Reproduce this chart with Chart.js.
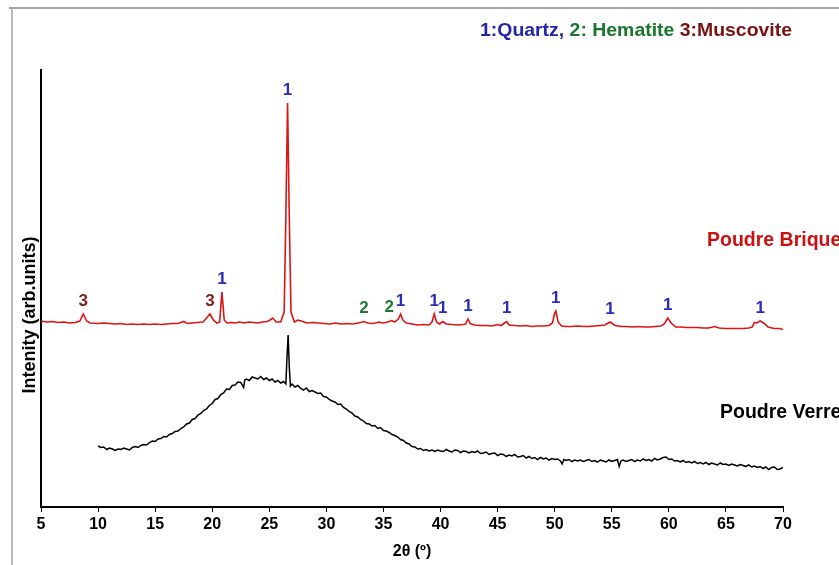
<!DOCTYPE html>
<html lang="fr">
<head>
<meta charset="UTF-8">
<title>DRX - Poudre Brique / Poudre Verre</title>
<script src="https://cdn.jsdelivr.net/npm/chart.js"></script>
<style>
  html, body { margin: 0; padding: 0; background: #fff; }
  #wrap { width: 839px; height: 565px; }
</style>
</head>
<body>
<div id="wrap"><canvas id="xrdChart" width="839" height="565"></canvas></div>
<script>
// 2theta tick values
const thetaTicks = [5, 10, 15, 20, 25, 30, 35, 40, 45, 50, 55, 60, 65, 70];

// Poudre Brique pattern, [2theta, intensity] (arb. units)
const briqueData = [
  [5,186],[5.5,185],[6,185.5],[6.5,184.5],[7,185],[7.5,184],[8,184.5],[8.4,186],[8.7,193],[9,186],[9.3,184],
  [10,183.5],[10.5,184],[11,183.5],[11.5,183],[12,183.5],[12.5,182.5],[13,183],[13.5,182.5],[14,183],[14.5,182.5],
  [15,183],[15.5,182.5],[16,183],[16.5,183.5],[17,183.5],[17.5,185.5],[17.8,183.5],[18.2,184],[18.7,184.5],[19.2,185],
  [19.5,189],[19.8,193],[20.1,187],[20.4,184],[20.65,185],[20.85,215],[21.05,187],[21.3,184],[21.7,184.5],[22,184],
  [22.4,185],[22.8,184],[23.2,185],[23.6,184.5],[24,184],[24.4,185],[24.8,185.5],[25,186.5],[25.3,189],[25.6,185],
  [26,185],[26.3,195],[26.45,290],[26.6,404],[26.75,290],[26.9,195],[27.2,185],[27.5,187],[27.8,186],[28.3,184],
  [28.8,184.5],[29.3,184],[29.8,183.5],[30.3,183],[30.8,184],[31.3,183],[31.8,183.5],[32.3,183],[32.8,184],[33.3,185.5],
  [33.6,184],[34,183.5],[34.3,184],[34.6,185],[34.9,184],[35.2,184.5],[35.5,185.5],[35.7,186.5],[36,185],[36.3,188],
  [36.5,193],[36.7,187],[37,184],[37.5,183],[38,182],[38.5,182.5],[39,182],[39.25,185],[39.45,193],[39.65,185],
  [39.9,183],[40.2,185.5],[40.5,183],[41,182.5],[41.5,182],[42,182.5],[42.2,183],[42.4,188],[42.6,183.5],[43,182],
  [43.5,181.5],[44,181.5],[44.5,181],[45,182.5],[45.3,181.5],[45.6,184],[45.8,185.5],[46,182],[46.5,181.5],[47,181],
  [47.5,181.5],[48,180.5],[48.5,181],[49,181],[49.5,181.5],[49.8,184],[50,194],[50.1,196],[50.3,185],[50.6,181],
  [51,180.5],[51.5,180.5],[52,181],[52.5,180.5],[53,180.5],[53.5,181],[54,181.5],[54.4,182],[54.85,185],[55.3,181.5],
  [55.8,180.5],[56.3,180.5],[56.8,180],[57.3,180.5],[57.8,180],[58.3,180],[58.8,180.5],[59.3,181],[59.6,183],[59.9,189],
  [60.2,184],[60.6,180],[61,180],[61.5,179.5],[62,179.5],[62.5,179.5],[63,179],[63.5,179],[64,180.5],[64.4,179],
  [65,178.5],[65.5,178.5],[66,178.5],[66.5,178.5],[67,179],[67.3,180],[67.5,184.5],[67.7,184],[68,186],[68.3,184],
  [68.7,180],[69.2,178.5],[69.7,178.5],[70,177.5]
];

// Poudre Verre pattern, [2theta, intensity] (arb. units)
const verreData = [
  [10,61],[10.25,59.5],[10.5,60],[10.75,57.5],[11,59],[11.25,58],[11.5,56.5],[11.75,58],[12,57.5],[12.25,59],
  [12.5,58],[12.75,57],[13,59.5],[13.25,60.5],[13.5,59.5],[13.75,61.5],[14,62.5],[14.25,62],[14.5,64.5],[14.75,66],
  [15,65.5],[15.25,68],[15.5,68.5],[15.75,70.5],[16,70],[16.25,72.5],[16.5,73.5],[16.75,75.5],[17,76],[17.25,78.5],
  [17.5,80],[17.75,83],[18,84],[18.25,87.5],[18.5,88.5],[18.75,92],[19,93.5],[19.25,96.5],[19.5,98],[19.75,101.5],
  [20,103.5],[20.25,107.5],[20.5,108.5],[20.75,112.5],[21,114],[21.25,118],[21.5,117.5],[21.75,121.5],[22,122],[22.25,125],
  [22.5,124.5],[22.75,119.5],[22.85,127],[23,128],[23.25,126.5],[23.5,130],[23.75,129],[24,128],[24.25,130.5],[24.5,127.5],
  [24.75,129],[25,126.5],[25.25,128],[25.5,125],[25.75,126.5],[26,124],[26.25,125.5],[26.45,123],[26.55,150],[26.65,172],
  [26.75,140],[26.85,121],[27,123],[27.25,120],[27.5,121.5],[27.75,118.5],[28,117],[28.25,119],[28.5,115.5],[28.75,116.5],
  [29,115],[29.25,113.5],[29.5,114],[29.75,110.5],[30,110],[30.25,107.5],[30.5,106],[30.75,105],[31,102.5],[31.25,103],
  [31.5,99.5],[31.75,98],[32,95.5],[32.25,94],[32.5,91],[32.75,90],[33,87.5],[33.25,86],[33.5,83.5],[33.75,83],
  [34,81],[34.25,81.5],[34.5,78.5],[34.75,79.5],[35,76.5],[35.25,76],[35.5,74.5],[35.75,72.5],[36,71.5],[36.25,70],
  [36.5,67.5],[36.75,66.5],[37,64],[37.25,63],[37.5,60.5],[37.75,60],[38,58],[38.25,58.5],[38.5,56.5],[38.75,57.5],
  [39,56],[39.25,57],[39.5,55.5],[39.75,57],[40,56],[40.25,55.5],[40.5,57.5],[40.75,56],[41,55],[41.25,57],
  [41.5,56.5],[41.75,54.5],[42,56],[42.25,55.5],[42.5,54],[42.75,55.5],[43,54.5],[43.25,56],[43.5,53.5],[43.75,54],
  [44,55],[44.25,52.5],[44.5,53.5],[44.75,54],[45,51.5],[45.25,53],[45.5,52.5],[45.75,50.5],[46,52],[46.25,51],
  [46.5,52.5],[46.75,50],[47,50.5],[47.25,51.5],[47.5,49],[47.75,50.5],[48,48.5],[48.25,49.5],[48.5,47.5],[48.75,49.5],
  [49,48],[49.25,49],[49.5,47],[49.75,48.5],[50,47.5],[50.25,48],[50.5,46],[50.65,43],[50.8,47.5],[51,46.5],
  [51.25,47.5],[51.5,45.5],[51.75,47],[52,46],[52.25,47],[52.5,45.5],[52.75,46.5],[53,47.5],[53.25,45.5],[53.5,46.5],
  [53.75,45],[54,47],[54.25,46],[54.5,45],[54.75,47],[55,45.5],[55.25,46.5],[55.5,47.5],[55.65,40.5],[55.8,46],
  [56,47],[56.25,45.5],[56.5,46.5],[56.75,47.5],[57,45.5],[57.25,47],[57.5,46],[57.75,48],[58,46.5],[58.25,47.5],
  [58.5,46],[58.75,48.5],[59,47],[59.25,48],[59.5,49.5],[59.75,50],[60,47.5],[60.25,48],[60.5,46],[60.75,46.5],
  [61,45],[61.25,46.5],[61.5,44.5],[61.75,45.5],[62,44],[62.25,45.5],[62.5,43.5],[62.75,44.5],[63,43],[63.25,44.5],
  [63.5,42.5],[63.75,44],[64,43],[64.25,42],[64.5,44],[64.75,42.5],[65,43],[65.25,41.5],[65.5,43],[65.75,42],
  [66,41],[66.25,42.5],[66.5,41.5],[66.75,40.5],[67,42],[67.25,40],[67.5,41],[67.75,39.5],[68,40.5],[68.25,38.5],
  [68.5,40],[68.75,37.5],[69,39.5],[69.25,40],[69.5,37.5],[69.75,38],[70,39.5]
];

// identified peaks on Poudre Brique: position and phase number
const peakPos   = [8.7, 19.8, 20.85, 26.6, 33.3, 35.5, 36.5, 39.45, 40.2, 42.4, 45.8, 50.1, 54.85, 59.9, 68.0];
const peakPhase = [3, 3, 1, 1, 2, 2, 1, 1, 1, 1, 1, 1, 1, 1, 1];
const phaseNames = ['Quartz', 'Hematite', 'Muscovite'];
const seriesNames = ['Poudre Brique', 'Poudre Verre'];

const FONT = "'Liberation Sans', Arial, Helvetica, sans-serif";
const phaseColors = ['#2b2bbb', '#1d7a33', '#7d1f1f'];
const legendColors = ['#2424a8', '#17772c', '#7a1010'];

const toXY = arr => arr.map(p => ({ x: p[0], y: p[1] }));

const annotations = {
  id: 'annotations',
  beforeDraw(chart) {
    const ctx = chart.ctx;
    ctx.save();
    ctx.strokeStyle = '#a3a3a3';
    ctx.lineWidth = 2;
    ctx.beginPath();
    ctx.moveTo(9, 8); ctx.lineTo(839, 8);
    ctx.stroke();
    ctx.lineWidth = 1.5;
    ctx.beginPath();
    ctx.moveTo(12, 8); ctx.lineTo(12, 565);
    ctx.stroke();
    ctx.restore();
  },
  afterDatasetsDraw(chart) {
    const ctx = chart.ctx;
    const xs = chart.scales.x, ys = chart.scales.y;
    ctx.save();

    // peak markers
    ctx.font = 'bold 17px ' + FONT;
    ctx.textAlign = 'center';
    ctx.textBaseline = 'middle';
    peakPos.forEach((pos, i) => {
      let top = 0;
      briqueData.forEach(p => { if (Math.abs(p[0] - pos) <= 0.35 && p[1] > top) top = p[1]; });
      ctx.fillStyle = phaseColors[peakPhase[i] - 1];
      ctx.fillText(String(peakPhase[i]), xs.getPixelForValue(pos), ys.getPixelForValue(top) - 13);
    });

    // phase key, top right
    const runs = [
      ['1:' + phaseNames[0] + ', ', legendColors[0]],
      ['2: ' + phaseNames[1] + ' ', legendColors[1]],
      ['3:' + phaseNames[2], legendColors[2]]
    ];
    ctx.font = 'bold 19px ' + FONT;
    ctx.textAlign = 'left';
    const full = runs.map(r => r[0]).join('');
    const sx = 312 / ctx.measureText(full).width;
    ctx.translate(480, 31);
    ctx.scale(sx, 1);
    let cx = 0;
    runs.forEach(r => {
      ctx.fillStyle = r[1];
      ctx.fillText(r[0], cx, 0);
      cx += ctx.measureText(r[0]).width;
    });
    ctx.setTransform(1, 0, 0, 1, 0, 0);

    // series names
    ctx.font = 'bold 19.5px ' + FONT;
    ctx.fillStyle = '#cc1010';
    ctx.fillText(seriesNames[0], 707, 241);
    ctx.fillStyle = '#000';
    ctx.fillText(seriesNames[1], 720, 413);

    // y axis title
    ctx.translate(30, 315);
    ctx.rotate(-Math.PI / 2);
    ctx.textAlign = 'center';
    ctx.font = 'bold 18px ' + FONT;
    ctx.fillStyle = '#000';
    ctx.fillText('Intenity (arb.units)', 0, 0);
    ctx.restore();
  }
};

const ctx = document.getElementById('xrdChart').getContext('2d');
const xrdChart = new Chart(ctx, {
  type: 'line',
  data: {
    datasets: [
      { label: seriesNames[0], data: toXY(briqueData), borderColor: '#dd1414', borderWidth: 1.6 },
      { label: seriesNames[1], data: toXY(verreData), borderColor: '#000000', borderWidth: 1.5 }
    ]
  },
  options: {
    responsive: false,
    animation: false,
    elements: { point: { radius: 0 }, line: { tension: 0 } },
    layout: { padding: { left: 41, right: 56, top: 70, bottom: 0 } },
    plugins: { legend: { display: false }, tooltip: { enabled: false } },
    scales: {
      x: {
        type: 'linear',
        min: 5, max: 70,
        afterFit: s => { s.height = 58; },
        afterBuildTicks: s => { s.ticks = thetaTicks.map(v => ({ value: v })); },
        ticks: { color: '#000', font: { family: FONT, size: 16, weight: 'bold' }, padding: 3, maxRotation: 0 },
        grid: { display: true, drawOnChartArea: false, drawTicks: true, tickLength: 5, tickColor: '#000', tickWidth: 1 },
        border: { display: true, color: '#000', width: 2 },
        title: { display: true, text: '2θ (º)', color: '#000', font: { family: FONT, size: 16, weight: 'bold' }, padding: { top: 2, bottom: 4 } }
      },
      y: {
        min: 0, max: 437,
        afterFit: s => { s.width = 0; },
        ticks: { display: false },
        grid: { display: false },
        border: { display: true, color: '#000', width: 2 }
      }
    }
  },
  plugins: [annotations]
});
</script>
</body>
</html>
